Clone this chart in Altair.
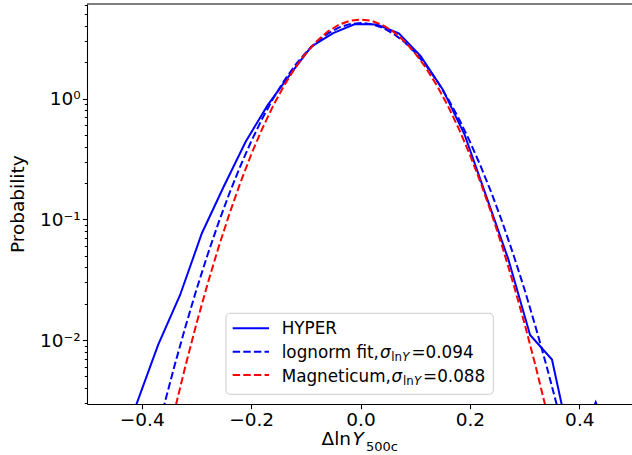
import altair as alt
import pandas as pd

FONT = "DejaVu Sans"

# ---- data ----
hyper_x = [-0.45, -0.41, -0.37, -0.33, -0.29, -0.25, -0.21, -0.17, -0.13, -0.09, -0.05, -0.01,
           0.03, 0.07, 0.11, 0.15, 0.19, 0.23, 0.27, 0.31, 0.35, 0.39, 0.43, 0.47]
hyper_p = [0.0008, 0.0029, 0.0091, 0.0235, 0.0767, 0.187, 0.44, 0.88, 1.56, 2.70, 3.50, 4.16,
           4.12, 3.48, 2.25, 1.20, 0.507, 0.155, 0.047, 0.011, 0.0069, 0.001, 0.00305, 0.001]

curve_x = [-0.38, -0.36, -0.34, -0.32, -0.30, -0.28, -0.26, -0.24, -0.22, -0.20, -0.18, -0.16,
           -0.14, -0.12, -0.10, -0.08, -0.06, -0.04, -0.02, 0.00, 0.02, 0.04, 0.06, 0.08, 0.10,
           0.12, 0.14, 0.16, 0.18, 0.20, 0.22, 0.24, 0.26, 0.28, 0.30, 0.32, 0.34, 0.36, 0.38]
fit_p = [0.00120, 0.00277, 0.00612, 0.0129, 0.0261, 0.0502, 0.0926, 0.163, 0.274, 0.441, 0.679,
         0.997, 1.400, 1.879, 2.410, 2.955, 3.462, 3.877, 4.149, 4.244, 4.149, 3.877, 3.462,
         2.955, 2.410, 1.879, 1.400, 0.997, 0.679, 0.441, 0.274, 0.163, 0.0926, 0.0502, 0.0261,
         0.0129, 0.00612, 0.00277, 0.00120]
mag_p = [0.000403, 0.00105, 0.00260, 0.00610, 0.0136, 0.0287, 0.0577, 0.110, 0.199, 0.343,
         0.559, 0.868, 1.279, 1.789, 2.377, 2.999, 3.593, 4.088, 4.417, 4.533, 4.417, 4.088,
         3.593, 2.999, 2.377, 1.789, 1.279, 0.868, 0.559, 0.343, 0.199, 0.110, 0.0577, 0.0287,
         0.0136, 0.00610, 0.00260, 0.00105, 0.000403]

x_ticks = [-0.4, -0.2, 0.0, 0.2, 0.4]
y_ticks = [0.003, 0.004, 0.005, 0.006, 0.007, 0.008, 0.009,
           0.01, 0.02, 0.03, 0.04, 0.05, 0.06, 0.07, 0.08, 0.09,
           0.1, 0.2, 0.3, 0.4, 0.5, 0.6, 0.7, 0.8, 0.9,
           1, 2, 3, 4, 5, 6]

legend_names = ["HYPER", "lognorm fit,", "Magneticum,"]
legend_sigmas = ["=0.094", "=0.088"]

W, H = 545, 400
BLUE, RED = "#0000ff", "#ff0000"
DASH = [7.4, 3.2]

x_enc = alt.X("x:Q", scale=alt.Scale(domain=[-0.5, 0.4963], nice=False, zero=False),
              axis=alt.Axis(values=x_ticks, format=".1f", title=None, grid=False,
                            tickSize=4.7, labelPadding=1.5, labelFontSize=18.5))
y_enc = alt.Y("p:Q", scale=alt.Scale(type="log", domain=[0.00295, 6.09], nice=False),
              axis=alt.Axis(values=y_ticks, title=None, grid=False, labelOverlap=False,
                            labelFontSize=18.5, labelPadding=2,
                            tickSize={"condition": {"test": "datum.value === 1 || datum.value === 0.1 || datum.value === 0.01", "value": 4.7}, "value": 2.7},
                            labelExpr="datum.value === 1 ? '10⁰' : datum.value === 0.1 ? '10⁻¹' : datum.value === 0.01 ? '10⁻²' : ''"))

df_h = pd.DataFrame({"x": hyper_x, "p": hyper_p})
df_f = pd.DataFrame({"x": curve_x, "p": fit_p})
df_m = pd.DataFrame({"x": curve_x, "p": mag_p})

hyper = alt.Chart(df_h).mark_line(color=BLUE, strokeWidth=2, clip=True).encode(x=x_enc, y=y_enc)
fit = alt.Chart(df_f).mark_line(color=BLUE, strokeWidth=2, strokeDash=DASH, clip=True).encode(x=x_enc, y=y_enc)
mag = alt.Chart(df_m).mark_line(color=RED, strokeWidth=2, strokeDash=DASH, clip=True).encode(x=x_enc, y=y_enc)

one = alt.Data(values=[{"a": 1}])

top_spine = alt.Chart(one).mark_rule(color="black", strokeWidth=1.07).encode(
    x=alt.value(0), x2=alt.value(W), y=alt.value(0))

legend_box = alt.Chart(one).mark_rect(fill="white", fillOpacity=0.8, stroke="#cccccc",
                                      strokeWidth=1, cornerRadius=4).encode(
    x=alt.value(139), x2=alt.value(406.3), y=alt.value(309.3), y2=alt.value(390.3))


def leg_line(y, color, dash=None):
    kw = dict(color=color, strokeWidth=2)
    if dash:
        kw["strokeDash"] = dash
    return alt.Chart(one).mark_rule(**kw).encode(x=alt.value(145.7), x2=alt.value(182), y=alt.value(y))


def txt(text, x, y, size, style="normal", align="left", angle=0):
    return alt.Chart(one).mark_text(text=text, align=align, baseline="alphabetic", font=FONT,
                                    fontSize=size, fontStyle=style, angle=angle,
                                    color="black").encode(x=alt.value(x), y=alt.value(y))


LF = 16.8
SF = 11.8
rows_y = [330.3, 354.0, 377.7]
layers = [hyper, fit, mag, top_spine, legend_box,
          leg_line(324.3, BLUE), leg_line(347.7, BLUE, DASH), leg_line(371.0, RED, DASH),
          txt(legend_names[0], 194.7, rows_y[0], LF)]
for i, shift in [(1, 0.0), (2, 11.6)]:
    y = rows_y[i]
    layers += [
        txt(legend_names[i], 194.7, y, LF),
        txt("σ", 293.0 + shift, y, LF, style="italic"),
        txt("ln", 304.3 + shift, y + 3, SF),
        txt("Y", 315.3 + shift, y + 3, SF, style="italic"),
        txt(legend_sigmas[i - 1], 324.5 + shift, y, LF),
    ]

# axis titles
layers += [
    txt("Δln", 234.5, 441.0, 18.5),
    txt("Y", 265.5, 441.0, 18.5, style="italic"),
    txt("500c", 279.0, 447.0, 13.0),
    txt("Probability", -63.0, 200.2, 18.5, align="center", angle=270),
]

chart = alt.layer(*layers).properties(
    width=W, height=H,
    padding={"left": 87, "top": 4, "right": 0, "bottom": 51},
    autosize=alt.AutoSizeParams(type="none"),
).configure_view(stroke=None).configure_axis(
    domainColor="black", domainWidth=1.07, tickColor="black", tickWidth=1.07,
    labelColor="black", labelFont=FONT,
)

chart.save("out.html", embed_options={"renderer": "svg", "actions": False})
